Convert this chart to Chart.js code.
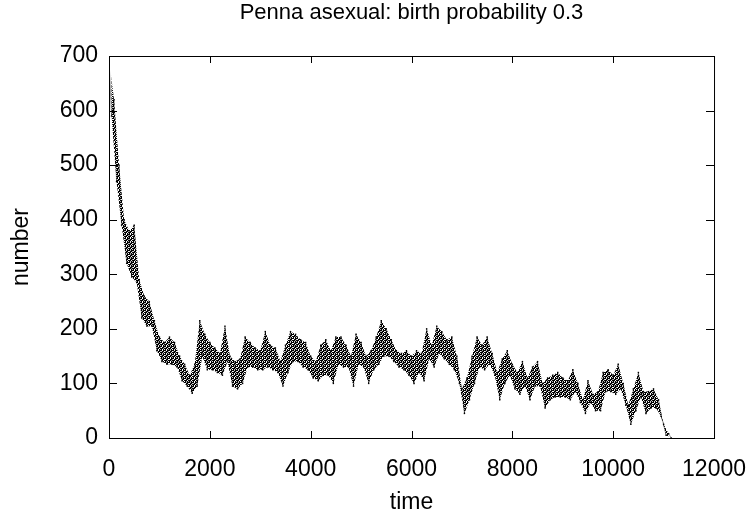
<!DOCTYPE html>
<html>
<head>
<meta charset="utf-8">
<script src="https://cdn.jsdelivr.net/npm/chart.js@4.4.1/dist/chart.umd.min.js"></script>
<style>
  html, body { margin: 0; padding: 0; background: #fff; }
</style>
</head>
<body>
<canvas id="chart" width="756" height="514"></canvas>
<script>
// population, every 100 time steps: top and bottom of the noisy band
const upper = [695, 620, 500, 400, 380, 390, 290, 260, 250, 215,
               185, 175, 185, 175, 150, 135, 115, 135, 215, 190,
               175, 165, 155, 205, 150, 140, 145, 185, 175, 165,
               160, 195, 170, 165, 140, 170, 195, 190, 180, 175,
               150, 140, 170, 180, 160, 185, 185, 170, 150, 190,
               175, 150, 160, 185, 215, 200, 180, 160, 155, 160,
               150, 160, 155, 200, 170, 205, 195, 180, 185, 150,
               90, 110, 150, 185, 170, 185, 155, 120, 145, 160,
               135, 120, 140, 110, 130, 140, 100, 110, 115, 120,
               110, 105, 125, 100, 70, 105, 80, 85, 120, 125,
               115, 135, 100, 60, 90, 120, 85, 85, 90, 70,
               25, 8];
const lower = [590, 470, 390, 320, 295, 285, 220, 205, 205, 160,
               140, 135, 135, 130, 105, 95, 82, 95, 150, 125,
               125, 120, 115, 140, 95, 90, 100, 130, 130, 125,
               125, 130, 125, 120, 95, 120, 140, 140, 130, 125,
               110, 105, 115, 115, 100, 135, 130, 130, 95, 135,
               130, 100, 125, 135, 150, 150, 140, 130, 125, 115,
               100, 120, 105, 145, 130, 155, 145, 135, 125, 100,
               45, 70, 100, 130, 125, 135, 115, 70, 100, 115,
               90, 80, 95, 70, 95, 95, 55, 70, 75, 75,
               75, 70, 85, 65, 45, 65, 50, 50, 85, 85,
               80, 90, 60, 25, 50, 75, 45, 55, 55, 40,
               5, 0];
const sampleStep = 100;
const times = upper.map((_, i) => i * sampleStep);

const xTicks = [0, 2000, 4000, 6000, 8000, 10000, 12000];
const yTicks = [0, 100, 200, 300, 400, 500, 600, 700];

const FONT = "'Liberation Sans', Arial, sans-serif";

// stipple so the band looks like gnuplot's dot cloud
function stipple() {
  const c = document.createElement('canvas');
  c.width = 4; c.height = 4;
  const g = c.getContext('2d');
  g.fillStyle = '#000';
  [[0,0],[1,0],[2,0],[1,1],[3,1],[0,2],[1,2],[3,2],[2,3],[3,3]]
    .forEach(([x, y]) => g.fillRect(x, y, 1, 1));
  return g.createPattern(c, 'repeat');
}

const hiPts = times.map((t, i) => ({ x: t, y: upper[i] }));
const loPts = times.map((t, i) => ({ x: t + sampleStep / 2, y: lower[i] }));
const zig = [];
times.forEach((t, i) => { zig.push(hiPts[i]); zig.push(loPts[i]); });

// gnuplot style frame with inward ticks on all four sides, plus title
const framePlugin = {
  id: 'frame',
  afterDatasetsDraw(chart) {
    const { ctx, chartArea: a, scales } = chart;
    ctx.save();
    ctx.strokeStyle = '#000';
    ctx.lineWidth = 1;
    ctx.strokeRect(a.left + 0.5, a.top + 0.5, a.right - a.left, a.bottom - a.top);
    ctx.beginPath();
    xTicks.forEach(v => {
      const x = Math.round(scales.x.getPixelForValue(v)) + 0.5;
      ctx.moveTo(x, a.bottom); ctx.lineTo(x, a.bottom - 7);
      ctx.moveTo(x, a.top); ctx.lineTo(x, a.top + 7);
    });
    yTicks.forEach(v => {
      const y = Math.round(scales.y.getPixelForValue(v)) + 0.5;
      ctx.moveTo(a.left, y); ctx.lineTo(a.left + 8, y);
      ctx.moveTo(a.right, y); ctx.lineTo(a.right - 8, y);
    });
    ctx.stroke();
    ctx.fillStyle = '#000';
    ctx.font = '22px ' + FONT;
    ctx.textAlign = 'center';
    ctx.textBaseline = 'middle';
    ctx.fillText('Penna asexual: birth probability 0.3', (a.left + a.right) / 2, 13);
    ctx.restore();
  }
};

new Chart(document.getElementById('chart'), {
  type: 'line',
  data: {
    datasets: [
      { data: hiPts, borderWidth: 0, pointRadius: 0, tension: 0, fill: '+1', backgroundColor: stipple() },
      { data: loPts, borderWidth: 0, pointRadius: 0, tension: 0, fill: false },
      { data: zig, borderColor: 'rgba(0,0,0,0.6)', borderWidth: 0.7, pointRadius: 0, tension: 0, fill: false },
      { data: hiPts, showLine: false, pointStyle: 'rect', pointRadius: 1, borderWidth: 0, backgroundColor: '#000' },
      { data: loPts, showLine: false, pointStyle: 'rect', pointRadius: 1, borderWidth: 0, backgroundColor: '#000' }
    ]
  },
  options: {
    responsive: false,
    animation: false,
    devicePixelRatio: 1,
    layout: { padding: { left: 0, right: 34, top: 56, bottom: 0 } },
    plugins: { legend: { display: false }, tooltip: { enabled: false } },
    scales: {
      x: {
        type: 'linear',
        min: 0, max: 12000,
        afterBuildTicks: s => { s.ticks = xTicks.map(v => ({ value: v })); },
        afterFit: s => { s.height = 76; },
        grid: { display: false },
        border: { display: false },
        ticks: { color: '#000', font: { family: FONT, size: 23 }, padding: 10, maxRotation: 0,
                 callback: v => String(v) },
        title: { display: true, text: 'time', color: '#000', font: { family: FONT, size: 23 }, padding: { top: 0, bottom: -2 } }
      },
      y: {
        min: 0, max: 700,
        afterBuildTicks: s => { s.ticks = yTicks.map(v => ({ value: v })); },
        afterFit: s => { s.width = 109; },
        grid: { display: false },
        border: { display: false },
        ticks: { color: '#000', font: { family: FONT, size: 23 }, padding: 3,
                 callback: v => String(v) },
        title: { display: true, text: 'number', color: '#000', font: { family: FONT, size: 23 }, padding: { top: 8, bottom: 0 } }
      }
    }
  },
  plugins: [framePlugin]
});
</script>
</body>
</html>
